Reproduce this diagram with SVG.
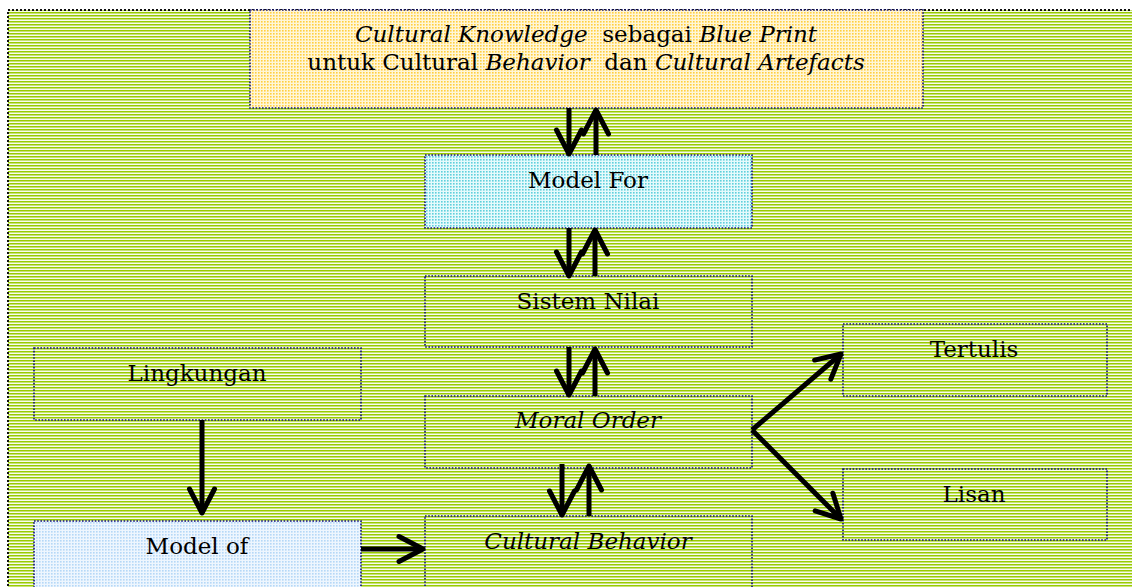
<svg xmlns="http://www.w3.org/2000/svg" width="1132" height="587" viewBox="0 0 1132 587">
<defs>
  <pattern id="stripes" width="6" height="3" patternUnits="userSpaceOnUse">
    <rect x="0" y="0" width="6" height="3" fill="#ffffff"/>
    <rect x="0" y="0" width="6" height="1.3" fill="#99cc00"/>
    <rect x="0" y="1.3" width="6" height="0.8" fill="#bcdd5e"/>
  </pattern>
  <pattern id="yellowDots" width="3" height="3" patternUnits="userSpaceOnUse">
    <rect width="3" height="3" fill="#fff6d8"/>
    <rect x="0" y="0" width="1.6" height="1.6" fill="#ffcf3f"/>
  </pattern>
  <pattern id="cyanDots" width="3" height="3" patternUnits="userSpaceOnUse">
    <rect width="3" height="3" fill="#e6fafc"/>
    <rect x="0" y="0" width="1.6" height="1.6" fill="#5fd0dc"/>
  </pattern>
  <pattern id="blueDots" width="3" height="3" patternUnits="userSpaceOnUse">
    <rect width="3" height="3" fill="#eef6fe"/>
    <rect x="0" y="0" width="1.6" height="1.6" fill="#b5d8f7"/>
  </pattern>
  <marker id="head" markerUnits="strokeWidth" orient="auto" refX="0" refY="0" markerWidth="10" markerHeight="10" overflow="visible">
    <path d="M-4.8,-2.5 L0,0 L-4.8,2.5" fill="none" stroke="#000" stroke-width="1" stroke-linecap="round" stroke-linejoin="round"/>
  </marker>
  <style>
    .box { stroke: #10107a; stroke-width: 1.6; stroke-dasharray: 1.6 1.6; }
    .plain { fill: none; }
    .lbl { font-family: "DejaVu Serif", "Liberation Serif", serif; font-size: 23px; fill: #000; text-anchor: middle; white-space: pre; }
    .it { font-style: italic; }
    .arrow { stroke: #000; stroke-width: 5; fill: none; marker-end: url(#head); }
  </style>
</defs>

<g id="background">
  <rect x="8" y="10" width="1130" height="590" fill="url(#stripes)" stroke="#111" stroke-width="2" stroke-dasharray="2 2"/>
</g>

<g id="node-blueprint">
  <rect class="box" x="250" y="10" width="673" height="98" fill="url(#yellowDots)"/>
  <text class="lbl" x="586" y="42"><tspan class="it">Cultural Knowledge</tspan>  sebagai <tspan class="it">Blue Print</tspan></text>
  <text class="lbl" x="586" y="70">untuk Cultural <tspan class="it">Behavior</tspan>  dan <tspan class="it">Cultural Artefacts</tspan></text>
</g>

<g id="node-model-for">
  <rect class="box" x="425" y="155" width="327" height="73" fill="url(#cyanDots)"/>
  <text class="lbl" x="588" y="188">Model For</text>
</g>

<g id="node-sistem-nilai">
  <rect class="box plain" x="425" y="276" width="327" height="71"/>
  <text class="lbl" x="588" y="309">Sistem Nilai</text>
</g>

<g id="node-moral-order">
  <rect class="box plain" x="425" y="396" width="327" height="72"/>
  <text class="lbl it" x="588" y="428">Moral Order</text>
</g>

<g id="node-cultural-behavior">
  <rect class="box plain" x="425" y="516" width="327" height="100"/>
  <text class="lbl it" x="588" y="549">Cultural Behavior</text>
</g>

<g id="node-lingkungan">
  <rect class="box plain" x="34" y="348" width="327" height="72"/>
  <text class="lbl" x="197" y="381">Lingkungan</text>
</g>

<g id="node-model-of">
  <rect class="box" x="34" y="521" width="327" height="100" fill="url(#blueDots)"/>
  <text class="lbl" x="197" y="554">Model of</text>
</g>

<g id="node-tertulis">
  <rect class="box plain" x="843" y="324" width="264" height="72"/>
  <text class="lbl" x="974" y="357">Tertulis</text>
</g>

<g id="node-lisan">
  <rect class="box plain" x="843" y="469" width="264" height="71"/>
  <text class="lbl" x="974" y="502">Lisan</text>
</g>

<g id="connectors">
  <line class="arrow" x1="569" y1="108" x2="569" y2="154"/>
  <line class="arrow" x1="596" y1="155" x2="596" y2="110"/>
  <line class="arrow" x1="569" y1="228" x2="569" y2="276"/>
  <line class="arrow" x1="595" y1="276" x2="595" y2="230"/>
  <line class="arrow" x1="569" y1="347" x2="569" y2="395"/>
  <line class="arrow" x1="595" y1="396" x2="595" y2="349"/>
  <line class="arrow" x1="562" y1="464" x2="562" y2="515"/>
  <line class="arrow" x1="589" y1="516" x2="589" y2="466"/>
  <line class="arrow" x1="202" y1="420" x2="202" y2="513"/>
  <line class="arrow" x1="361" y1="549" x2="423" y2="549"/>
  <path class="arrow" d="M752,430 L841,354"/>
  <path class="arrow" d="M752,430 L841,519"/>
</g>
</svg>
